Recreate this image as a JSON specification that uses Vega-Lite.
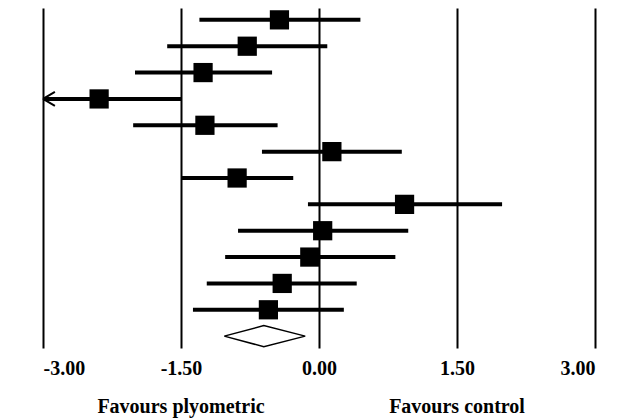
{
  "$schema": "https://vega.github.io/schema/vega-lite/v6.json",
  "width": 552,
  "height": 340,
  "autosize": {"type": "none"},
  "padding": {"left": 43, "top": 8, "right": 26, "bottom": 72},
  "background": "white",
  "config": {"view": {"stroke": null}},
  "datasets": {
    "studies": [
      {"row": 1, "est": -0.43, "lo": -1.30, "hi": 0.45},
      {"row": 2, "est": -0.78, "lo": -1.65, "hi": 0.09},
      {"row": 3, "est": -1.26, "lo": -2.00, "hi": -0.51},
      {"row": 4, "est": -2.39, "lo": -3.00, "hi": -1.50},
      {"row": 5, "est": -1.24, "lo": -2.02, "hi": -0.45},
      {"row": 6, "est": 0.14, "lo": -0.62, "hi": 0.90},
      {"row": 7, "est": -0.89, "lo": -1.50, "hi": -0.28},
      {"row": 8, "est": 0.93, "lo": -0.12, "hi": 1.99},
      {"row": 9, "est": 0.04, "lo": -0.88, "hi": 0.97},
      {"row": 10, "est": -0.10, "lo": -1.02, "hi": 0.83},
      {"row": 11, "est": -0.40, "lo": -1.22, "hi": 0.41},
      {"row": 12, "est": -0.55, "lo": -1.37, "hi": 0.27}
    ],
    "diamond": [
      {"o": 1, "x": -1.03, "y": 13},
      {"o": 2, "x": -0.60, "y": 12.6},
      {"o": 3, "x": -0.15, "y": 13},
      {"o": 4, "x": -0.60, "y": 13.4},
      {"o": 5, "x": -1.03, "y": 13}
    ],
    "arrow": [{"x": -3, "row": 4}],
    "labels": [
      {"x": -1.5, "y": 15.9, "t": "Favours plyometric"},
      {"x": 1.5, "y": 15.9, "t": "Favours control"}
    ]
  },
  "layer": [
    {
      "data": {"name": "studies"},
      "mark": {"type": "rule", "color": "black", "strokeWidth": 4, "strokeCap": "butt"},
      "encoding": {
        "x": {
          "field": "lo", "type": "quantitative",
          "scale": {"domain": [-3, 3], "nice": false, "zero": false},
          "axis": {
            "values": [-3, -1.5, 0, 1.5, 3],
            "labelExpr": "datum.value < 0 ? '-' + format(-datum.value, '.2f') : format(datum.value, '.2f')",
            "title": null,
            "grid": true,
            "gridColor": "black",
            "gridWidth": 2,
            "gridOpacity": 1,
            "domain": false,
            "ticks": false,
            "labelFont": "Liberation Serif",
            "labelFontWeight": "bold",
            "labelFontSize": 20,
            "labelColor": "black",
            "labelPadding": 10
          }
        },
        "x2": {"field": "hi"},
        "y": {
          "field": "row", "type": "quantitative",
          "scale": {"domain": [0.55, 13.45], "reverse": true, "nice": false, "zero": false},
          "axis": null
        }
      }
    },
    {
      "data": {"name": "studies"},
      "mark": {"type": "point", "shape": "square", "filled": true, "color": "black", "opacity": 1, "size": 370},
      "encoding": {
        "x": {"field": "est", "type": "quantitative"},
        "y": {"field": "row", "type": "quantitative"}
      }
    },
    {
      "data": {"name": "arrow"},
      "mark": {"type": "point", "shape": "M0,0L1.7,-1M0,0L1.7,1", "filled": false, "color": "black", "strokeWidth": 2, "opacity": 1, "size": 196},
      "encoding": {
        "x": {"field": "x", "type": "quantitative"},
        "y": {"field": "row", "type": "quantitative"}
      }
    },
    {
      "data": {"name": "diamond"},
      "mark": {"type": "line", "color": "black", "strokeWidth": 1.5},
      "encoding": {
        "x": {"field": "x", "type": "quantitative"},
        "y": {"field": "y", "type": "quantitative"},
        "order": {"field": "o", "type": "quantitative"}
      }
    },
    {
      "data": {"name": "labels"},
      "mark": {"type": "text", "font": "Liberation Serif", "fontWeight": "bold", "fontSize": 20, "color": "black", "baseline": "alphabetic", "align": "center", "clip": false},
      "encoding": {
        "x": {"field": "x", "type": "quantitative"},
        "y": {"field": "y", "type": "quantitative"},
        "text": {"field": "t"}
      }
    }
  ]
}
